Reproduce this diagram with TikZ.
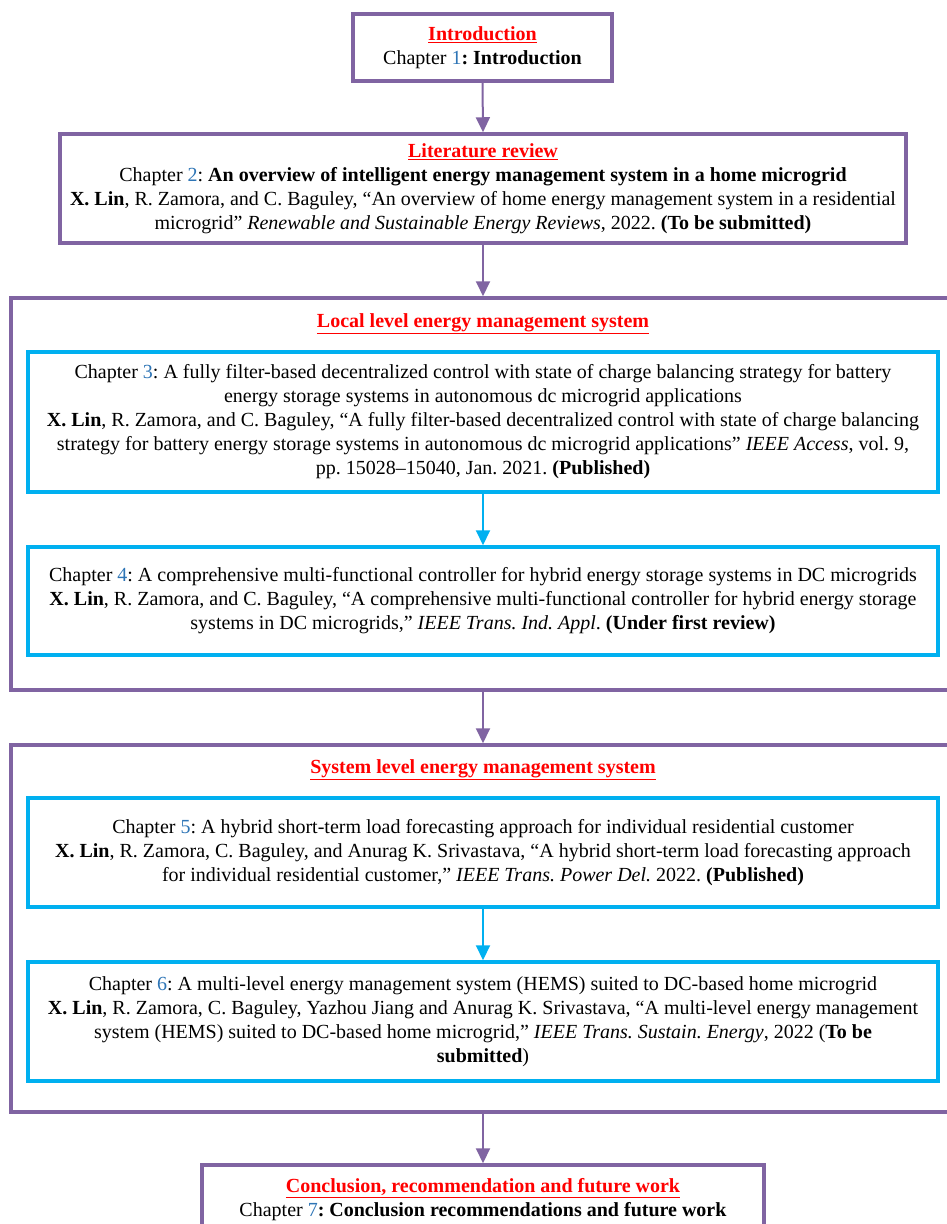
\documentclass[tikz,border=0pt]{standalone}
\usepackage{fontspec}
\setmainfont{Liberation Serif}
\usetikzlibrary{arrows.meta}
\definecolor{chapterpurple}{HTML}{8064A2}
\definecolor{paperblue}{HTML}{00B0F0}
\definecolor{numblue}{HTML}{2E75B6}
\newcommand{\chnum}[1]{\textcolor{numblue}{#1}}
\newcommand{\parthead}[1]{\textcolor{red}{\textbf{\underline{#1}}}}
\frenchspacing

\begin{document}
\begin{tikzpicture}[x=1pt,y=-1pt,
  font=\fontsize{20}{24}\selectfont,
  chapbox/.style={draw=chapterpurple,line width=3.5pt,align=center,inner sep=0pt},
  groupbox/.style={draw=chapterpurple,line width=3.5pt,inner sep=0pt},
  paperbox/.style={draw=paperblue,line width=3.5pt,align=center,inner sep=0pt,minimum width=910pt},
  flow/.style={draw=chapterpurple,line width=2pt,-{Triangle[length=15pt,width=14pt]}},
  subflow/.style={draw=paperblue,line width=2pt,-{Triangle[length=15pt,width=14pt]}}]
\useasboundingbox (0,0) rectangle (947,1224);

\node[chapbox,minimum width=259pt,minimum height=67pt] (intro) at (482.5,47.5)
  {\parthead{Introduction}\\Chapter \chnum{1}\textbf{: Introduction}};

\node[chapbox,minimum width=846pt,minimum height=109pt] (litreview) at (483,188.5)
  {\parthead{Literature review}\\
   Chapter \chnum{2}: \textbf{An overview of intelligent energy management system in a home microgrid}\\
   \textbf{X. Lin}, R. Zamora, and C. Baguley, ``An overview of home energy management system in a residential\\
   microgrid'' \textit{Renewable and Sustainable Energy Reviews}, 2022. \textbf{(To be submitted)}};

\node[groupbox,minimum width=949pt,minimum height=392pt] (locallevel) at (485.5,494) {};
\node (localtitle) at (483,324) {\parthead{Local level energy management system}};

\node[paperbox,minimum height=140pt] (chapthree) at (483,422)
  {Chapter \chnum{3}: A fully filter-based decentralized control with state of charge balancing strategy for battery\\
   energy storage systems in autonomous dc microgrid applications\\
   \textbf{X. Lin}, R. Zamora, and C. Baguley, ``A fully filter-based decentralized control with state of charge balancing\\
   strategy for battery energy storage systems in autonomous dc microgrid applications'' \textit{IEEE Access}, vol. 9,\\
   pp. 15028--15040, Jan. 2021. \textbf{(Published)}};

\node[paperbox,minimum height=108pt] (chapfour) at (483,601)
  {Chapter \chnum{4}: A comprehensive multi-functional controller for hybrid energy storage systems in DC microgrids\\
   \textbf{X. Lin}, R. Zamora, and C. Baguley, ``A comprehensive multi-functional controller for hybrid energy storage\\
   systems in DC microgrids,'' \textit{IEEE Trans. Ind. Appl}. \textbf{(Under first review)}};

\node[groupbox,minimum width=949pt,minimum height=367pt] (systemlevel) at (485.5,928.5) {};
\node (systemtitle) at (483,770) {\parthead{System level energy management system}};

\node[paperbox,minimum height=109pt] (chapfive) at (483,852.5)
  {Chapter \chnum{5}: A hybrid short-term load forecasting approach for individual residential customer\\
   \textbf{X. Lin}, R. Zamora, C. Baguley, and Anurag K. Srivastava, ``A hybrid short-term load forecasting approach\\
   for individual residential customer,'' \textit{IEEE Trans. Power Del.} 2022. \textbf{(Published)}};

\node[paperbox,minimum height=119pt] (chapsix) at (483,1021.5)
  {Chapter \chnum{6}: A multi-level energy management system (HEMS) suited to DC-based home microgrid\\
   \textbf{X. Lin}, R. Zamora, C. Baguley, Yazhou Jiang and Anurag K. Srivastava, ``A multi-level energy management\\
   system (HEMS) suited to DC-based home microgrid,'' \textit{IEEE Trans. Sustain. Energy}, 2022 (\textbf{To be}\\
   \textbf{submitted})};

\node[chapbox,minimum width=562pt,minimum height=69pt] (conclusion) at (483,1199.5)
  {\parthead{Conclusion, recommendation and future work}\\
   Chapter \chnum{7}\textbf{: Conclusion recommendations and future work}};

\draw[flow] (intro.south) -- (litreview.north);
\draw[flow] (litreview.south) -- (litreview.south |- locallevel.north);
\draw[subflow] (chapthree.south) -- (chapfour.north);
\draw[flow] (litreview.south |- locallevel.south) -- (litreview.south |- systemlevel.north);
\draw[subflow] (chapfive.south) -- (chapsix.north);
\draw[flow] (litreview.south |- systemlevel.south) -- (conclusion.north);
\end{tikzpicture}
\end{document}
